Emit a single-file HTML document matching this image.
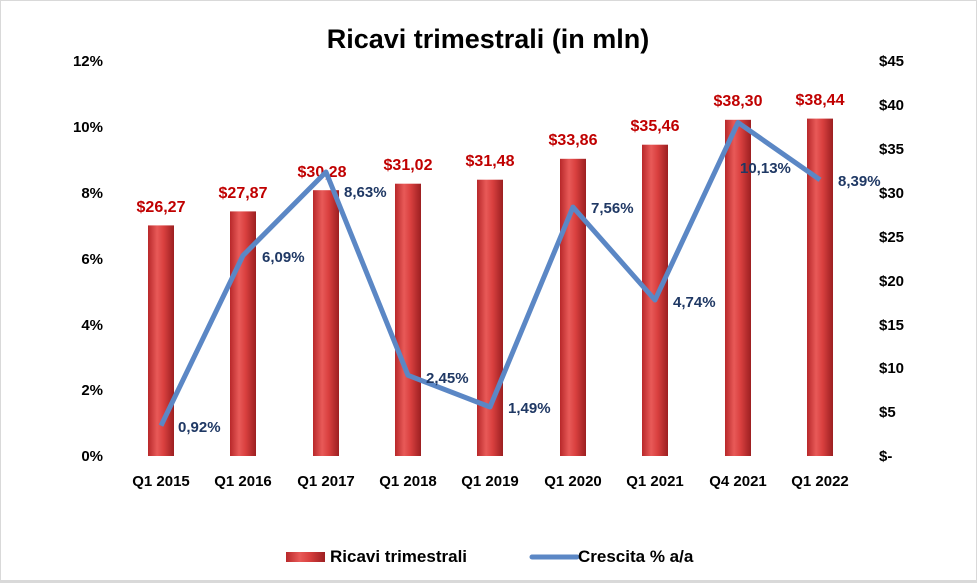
<!DOCTYPE html>
<html><head><meta charset="utf-8"><style>
body{margin:0;background:#fff}
svg{display:block;font-family:"Liberation Sans",Arial,sans-serif}
</style></head><body>
<svg width="977" height="583" viewBox="0 0 977 583">
<defs>
<linearGradient id="bg" x1="0" x2="1" y1="0" y2="0">
<stop offset="0" stop-color="#b8282a"/><stop offset="0.35" stop-color="#e85a58"/><stop offset="0.6" stop-color="#d9403f"/><stop offset="1" stop-color="#9c1f21"/>
</linearGradient>
</defs>
<rect x="0.5" y="0.5" width="976" height="582" fill="#fff" stroke="#d9d9d9"/>
<text x="488" y="48" text-anchor="middle" font-size="27" font-weight="bold" fill="#000">Ricavi trimestrali (in mln)</text>
<g font-size="15" font-weight="bold" fill="#000">
<text x="103" y="66" text-anchor="end">12%</text>
<text x="103" y="132" text-anchor="end">10%</text>
<text x="103" y="198" text-anchor="end">8%</text>
<text x="103" y="264" text-anchor="end">6%</text>
<text x="103" y="330" text-anchor="end">4%</text>
<text x="103" y="395" text-anchor="end">2%</text>
<text x="103" y="461" text-anchor="end">0%</text>
<text x="879" y="66">$45</text>
<text x="879" y="110">$40</text>
<text x="879" y="154">$35</text>
<text x="879" y="198">$30</text>
<text x="879" y="242">$25</text>
<text x="879" y="286">$20</text>
<text x="879" y="330">$15</text>
<text x="879" y="373">$10</text>
<text x="879" y="417">$5</text>
<text x="879" y="461">$-</text>
</g>
<g id="bars"></g>
<g font-size="15" font-weight="bold" fill="#000" text-anchor="middle">
<text x="161" y="486">Q1 2015</text><text x="243" y="486">Q1 2016</text><text x="326" y="486">Q1 2017</text>
<text x="408" y="486">Q1 2018</text><text x="490" y="486">Q1 2019</text><text x="573" y="486">Q1 2020</text>
<text x="655" y="486">Q1 2021</text><text x="738" y="486">Q4 2021</text><text x="820" y="486">Q1 2022</text>
</g>
<g fill="url(#bg)">
<rect x="148" y="225.4" width="26" height="230.6"/>
<rect x="230" y="211.4" width="26" height="244.6"/>
<rect x="313" y="190.2" width="26" height="265.8"/>
<rect x="395" y="183.7" width="26" height="272.3"/>
<rect x="477" y="179.7" width="26" height="276.3"/>
<rect x="560" y="158.8" width="26" height="297.2"/>
<rect x="642" y="144.7" width="26" height="311.3"/>
<rect x="725" y="119.8" width="26" height="336.2"/>
<rect x="807" y="118.6" width="26" height="337.4"/>
</g>
<g font-size="16" font-weight="bold" fill="#c00000" text-anchor="middle">
<text x="161" y="212">$26,27</text><text x="243" y="198">$27,87</text><text x="322" y="177">$30,28</text>
<text x="408" y="170">$31,02</text><text x="490" y="166">$31,48</text><text x="573" y="145">$33,86</text>
<text x="655" y="131">$35,46</text><text x="738" y="106">$38,30</text><text x="820" y="105">$38,44</text>
</g>
<polyline fill="none" stroke="#5b87c5" stroke-width="5" stroke-linejoin="round" points="161,425.7 243,255.5 326,172 408,375.3 490,407 573,207.1 655,300 738,122.5 820,179.8"/>
<g font-size="15" font-weight="bold" fill="#1f3864">
<text x="178" y="432">0,92%</text><text x="262" y="262">6,09%</text><text x="344" y="197">8,63%</text>
<text x="426" y="383">2,45%</text><text x="508" y="413">1,49%</text><text x="591" y="213">7,56%</text>
<text x="673" y="307">4,74%</text><text x="740" y="173">10,13%</text><text x="838" y="186">8,39%</text>
</g>
<rect x="286" y="552" width="39" height="10" fill="url(#bg)"/>
<text x="330" y="562" font-size="17" font-weight="bold">Ricavi trimestrali</text>
<line x1="532" y1="557" x2="577" y2="557" stroke="#5b87c5" stroke-width="5" stroke-linecap="round"/>
<text x="578" y="562" font-size="17" font-weight="bold">Crescita % a/a</text>
<rect x="0" y="580" width="977" height="3" fill="#d9d9d9"/>
</svg>
</body></html>
